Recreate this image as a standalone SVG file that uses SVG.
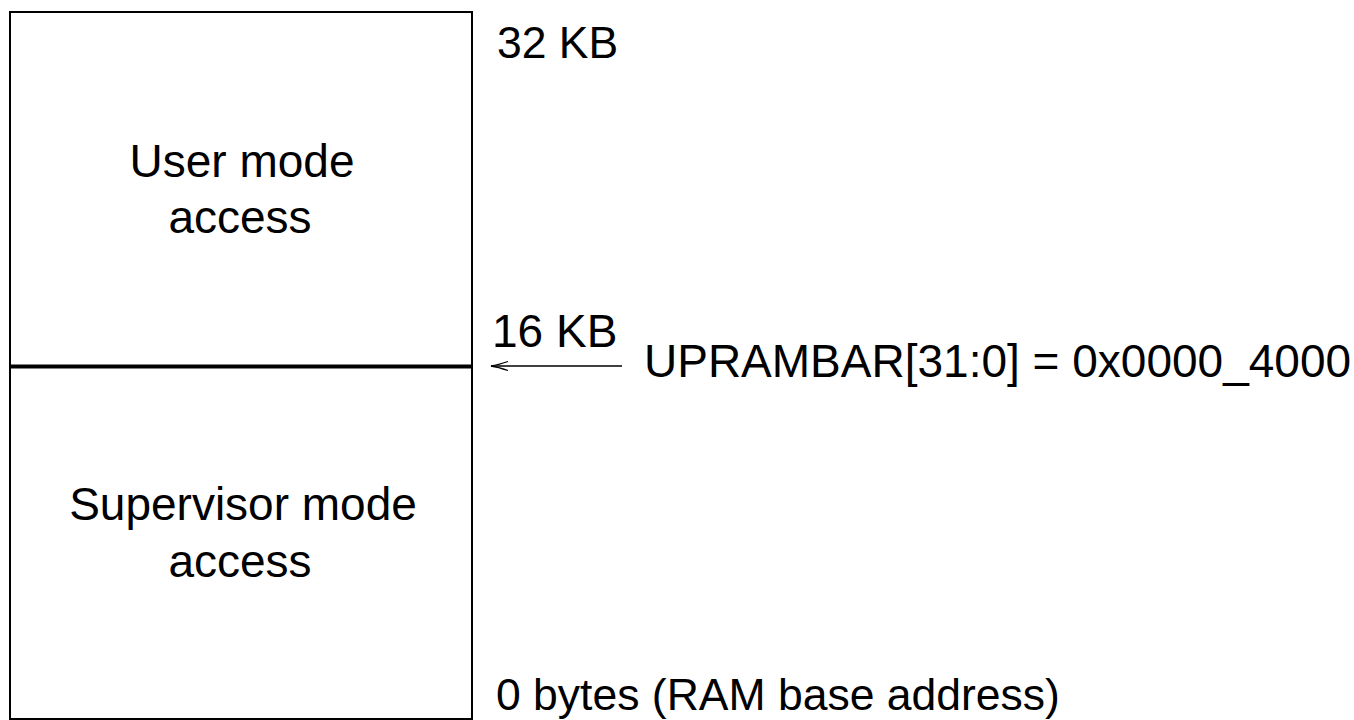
<svg xmlns="http://www.w3.org/2000/svg" width="1354" height="720" viewBox="0 0 1354 720">
  <style>
    .lbl { font-family: "Liberation Sans", Arial, Helvetica, sans-serif; font-size: 44.5px; fill: #000; }
    .big { font-size: 46px; }
    .mid { text-anchor: middle; }
    .frame { fill: #fff; stroke: #000; stroke-width: 2; }
  </style>
  <defs>
    <!-- thin barbed arrowhead; tip sits at the end of the line -->
    <marker id="head" viewBox="0 0 20 12" refX="19" refY="6" markerWidth="20" markerHeight="12" markerUnits="userSpaceOnUse" orient="auto">
      <path d="M2,1.5 Q12,5 19,6 Q12,7 2,10.5" fill="none" stroke="#000" stroke-width="1.3"/>
    </marker>
  </defs>
  <rect width="1354" height="720" fill="#fff"/>

  <!-- RAM block: upper half is user-accessible, lower half supervisor only -->
  <g id="ram-block">
    <rect class="frame" x="10" y="12" width="462" height="707"/>
    <line x1="10" y1="366.5" x2="472" y2="366.5" stroke="#000" stroke-width="4"/>
  </g>

  <g id="user-region">
    <text class="lbl big mid" x="242" y="177">User mode</text>
    <text class="lbl big mid" x="240" y="233">access</text>
  </g>

  <g id="supervisor-region">
    <text class="lbl big mid" x="243" y="520">Supervisor mode</text>
    <text class="lbl big mid" x="240" y="577">access</text>
  </g>

  <!-- address marks -->
  <g id="addr-top">
    <text class="lbl" x="497" y="58">32 KB</text>
  </g>
  <g id="addr-mid">
    <text class="lbl big" x="492" y="347">16 KB</text>
  </g>
  <g id="addr-base">
    <text class="lbl" x="496" y="710">0 bytes (RAM base address)</text>
  </g>

  <g id="uprambar">
    <text class="lbl big" x="644" y="377">UPRAMBAR[31:0] = 0x0000_4000</text>
  </g>

  <g id="connectors">
    <line x1="622" y1="366" x2="491" y2="366" stroke="#000" stroke-width="1.3" marker-end="url(#head)"/>
  </g>
</svg>
